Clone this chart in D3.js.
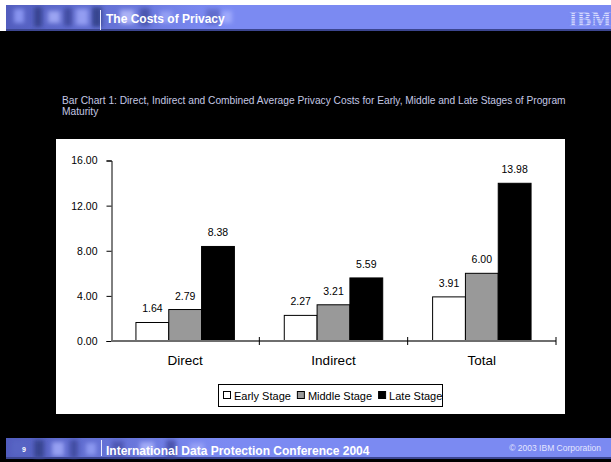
<!DOCTYPE html>
<html>
<head>
<meta charset="utf-8">
<script src="https://cdn.jsdelivr.net/npm/d3@7"></script>
<style>
  html, body { margin: 0; padding: 0; background: #000; }
  svg { display: block; font-family: "Liberation Sans", Arial, sans-serif; }
</style>
</head>
<body>
<svg id="slide" width="611" height="462"></svg>
<script>
// Average privacy cost per program-maturity stage
const categories = ["Direct", "Indirect", "Total"];
const stages = ["Early Stage", "Middle Stage", "Late Stage"];
const earlyStage = [1.64, 2.27, 3.91];
const middleStage = [2.79, 3.21, 6.00];
const lateStage = [8.38, 5.59, 13.98];
const yTicks = [0, 4, 8, 12, 16];

const stageValues = [earlyStage, middleStage, lateStage];
const stageColors = ["#ffffff", "#999999", "#000000"];

const svg = d3.select("#slide");

// Slide background
svg.append("rect").attr("width", 611).attr("height", 462).attr("fill", "#000");
svg.append("rect").attr("width", 611).attr("height", 5).attr("fill", "#fff");
svg.append("rect").attr("x", 0).attr("y", 0).attr("width", 6).attr("height", 31).attr("fill", "#fff");

const defs = svg.append("defs");
defs.append("filter").attr("id", "soft")
  .append("feGaussianBlur").attr("stdDeviation", 2.2);
const fade = defs.append("linearGradient").attr("id", "fade").attr("x1", 0).attr("x2", 1);
fade.append("stop").attr("offset", 0).attr("stop-color", "#4d58b8").attr("stop-opacity", 0.9);
fade.append("stop").attr("offset", 0.6).attr("stop-color", "#5a66c8").attr("stop-opacity", 0.5);
fade.append("stop").attr("offset", 1).attr("stop-color", "#7b8af2").attr("stop-opacity", 0);

// Banner strip with a blurred photo collage on the left
function banner(y, h, collage) {
  const g = svg.append("g");
  g.append("rect").attr("x", 6).attr("y", y).attr("width", 605).attr("height", h).attr("fill", "#7b8af2");
  g.append("rect").attr("x", 6).attr("y", y).attr("width", 230).attr("height", h).attr("fill", "url(#fade)");
  const blobs = g.append("g").attr("filter", "url(#soft)");
  collage.forEach(b => {
    blobs.append("rect").attr("x", b[0]).attr("y", y + b[1]).attr("width", b[2]).attr("height", b[3])
      .attr("fill", b[4]).attr("opacity", 0.75);
  });
  g.append("rect").attr("x", 6).attr("y", y + h - 2).attr("width", 605).attr("height", 2).attr("fill", "#3c4690");
  return g;
}

const headerCollage = [
  [14, 4, 10, 14, "#9aa6ff"], [34, 2, 8, 20, "#2e3880"], [48, 6, 12, 12, "#b0b8ff"],
  [64, 3, 8, 18, "#3a4494"], [76, 4, 12, 16, "#a4aefc"], [92, 2, 10, 20, "#2a3478"],
  [120, 5, 14, 14, "#c0c6ff"], [140, 3, 10, 18, "#404ca0"], [160, 6, 12, 12, "#9ea8f8"],
  [206, 4, 14, 16, "#5964c0"], [222, 6, 10, 12, "#aab3ff"]
];
const footerCollage = [
  [12, 3, 14, 14, "#5a66c4"], [34, 2, 10, 18, "#2e3880"], [52, 4, 12, 14, "#aab2ff"],
  [70, 2, 8, 18, "#3a4494"], [86, 5, 10, 12, "#9aa6fa"], [112, 3, 12, 16, "#4650a8"],
  [140, 4, 14, 14, "#b4bcff"], [166, 2, 10, 18, "#3e489c"], [190, 5, 14, 12, "#a0aaf8"]
];

const header = banner(5, 26, headerCollage);
header.append("line").attr("x1", 100.5).attr("x2", 100.5).attr("y1", 10).attr("y2", 30)
  .attr("stroke", "#e8eaff").attr("stroke-width", 1);
header.append("text").attr("x", 106).attr("y", 23)
  .attr("fill", "#fff").attr("font-size", 12).attr("font-weight", "bold")
  .text("The Costs of Privacy");

// Striped corporate mark in the header
const mark = header.append("g");
mark.append("text").attr("x", 590).attr("y", 26).attr("text-anchor", "middle")
  .attr("font-size", 21).attr("font-weight", "bold").attr("font-family", "Liberation Serif, serif")
  .attr("fill", "#dde0ff").text("IBM");
d3.range(8).forEach(i => {
  mark.append("rect").attr("x", 568).attr("y", 9.5 + i * 2.2).attr("width", 43).attr("height", 0.9)
    .attr("fill", "#7b8af2");
});

const footer = banner(438, 21, footerCollage);
footer.append("line").attr("x1", 101.5).attr("x2", 101.5).attr("y1", 440).attr("y2", 456)
  .attr("stroke", "#e8eaff").attr("stroke-width", 1);
footer.append("text").attr("x", 22).attr("y", 452).attr("fill", "#fff")
  .attr("font-size", 7).attr("font-weight", "bold").text("9");
footer.append("text").attr("x", 106).attr("y", 455).attr("fill", "#fff")
  .attr("font-size", 12).attr("font-weight", "bold").text("International Data Protection Conference 2004");
footer.append("text").attr("x", 601).attr("y", 451).attr("text-anchor", "end").attr("fill", "#e4e6ff")
  .attr("font-size", 8.5).text("\u00A9 2003 IBM Corporation");

// Caption above the chart
const caption = svg.append("text").attr("x", 62).attr("y", 104)
  .attr("fill", "#c4c8e4").attr("font-size", 10.2);
caption.append("tspan").attr("x", 62).attr("dy", 0)
  .text("Bar Chart 1: Direct, Indirect and Combined Average Privacy Costs for Early, Middle and Late Stages of Program");
caption.append("tspan").attr("x", 62).attr("dy", 11).text("Maturity");

// Chart panel
svg.append("rect").attr("x", 56).attr("y", 139).attr("width", 509).attr("height", 275).attr("fill", "#fff");

const y = d3.scaleLinear().domain([0, 16]).range([341, 160.5]);
const x0 = d3.scaleBand().domain(categories).range([111, 556]).padding(0);
const x1 = d3.scaleBand().domain(stages).range([0, x0.bandwidth()]).paddingInner(0).paddingOuter(0.76);

const plot = svg.append("g");

// Bars
stages.forEach((s, si) => {
  plot.append("g").selectAll("rect").data(categories).join("rect")
    .attr("x", c => x0(c) + x1(s))
    .attr("y", (c, i) => y(stageValues[si][i]))
    .attr("width", x1.bandwidth())
    .attr("height", (c, i) => y(0) - y(stageValues[si][i]))
    .attr("fill", stageColors[si])
    .attr("stroke", "#000").attr("stroke-width", 1);
  plot.append("g").selectAll("text").data(categories).join("text")
    .attr("x", c => x0(c) + x1(s) + x1.bandwidth() / 2)
    .attr("y", (c, i) => y(stageValues[si][i]) - 10)
    .attr("text-anchor", "middle").attr("font-size", 10.5).attr("fill", "#000")
    .text((c, i) => stageValues[si][i].toFixed(2));
});

// Y axis
const yAxis = svg.append("g").attr("transform", "translate(111.5,0)")
  .call(d3.axisLeft(y).tickValues(yTicks).tickFormat(d3.format(".2f")).tickSize(5).tickPadding(9));
yAxis.select(".domain").attr("stroke", "#000");
yAxis.selectAll(".tick line").attr("stroke", "#000");
yAxis.selectAll(".tick text").attr("font-size", 10.5).attr("fill", "#000")
  .attr("font-family", "Liberation Sans, Arial, sans-serif");

// X axis: baseline, category separators and labels
svg.append("line").attr("x1", 111).attr("x2", 556).attr("y1", y(0)).attr("y2", y(0))
  .attr("stroke", "#6e6e6e").attr("stroke-width", 2);
svg.append("g").selectAll("line").data(categories).join("line")
  .attr("x1", c => x0(c) + x0.bandwidth()).attr("x2", c => x0(c) + x0.bandwidth())
  .attr("y1", y(0) - 4).attr("y2", y(0) + 4)
  .attr("stroke", "#000").attr("stroke-width", 1);
svg.append("g").selectAll("text").data(categories).join("text")
  .attr("x", c => x0(c) + x0.bandwidth() / 2).attr("y", 365)
  .attr("text-anchor", "middle").attr("font-size", 13.5).attr("fill", "#000")
  .text(c => c);

// Legend
const legend = svg.append("g");
legend.append("rect").attr("x", 218.5).attr("y", 384.5).attr("width", 224).attr("height", 22)
  .attr("fill", "#fff").attr("stroke", "#000").attr("stroke-width", 1);
let lx = 223;
stages.forEach((s, si) => {
  legend.append("rect").attr("x", lx + 0.5).attr("y", 391.5).attr("width", 7).attr("height", 7)
    .attr("fill", stageColors[si]).attr("stroke", "#000").attr("stroke-width", 1);
  const t = legend.append("text").attr("x", lx + 11).attr("y", 399.5)
    .attr("font-size", 11).attr("fill", "#000").text(s);
  lx += 11 + t.node().getComputedTextLength() + 6;
});
</script>
</body>
</html>
